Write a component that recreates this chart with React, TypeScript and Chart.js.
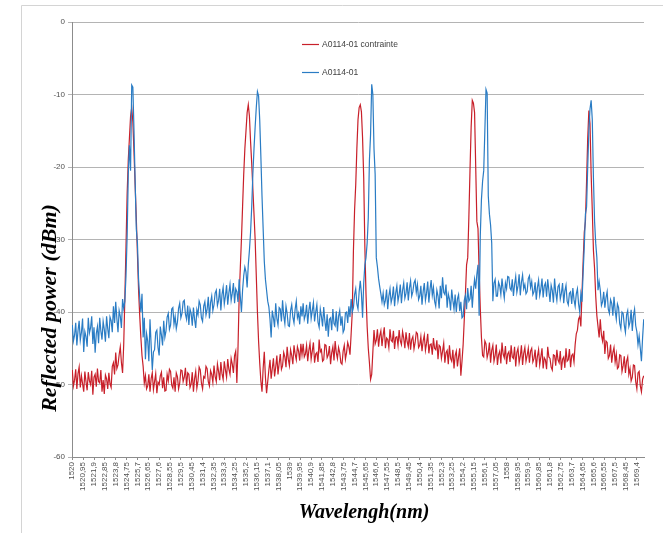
import { useEffect, useRef } from "react";
import { Chart, registerables } from "chart.js";

Chart.register(...registerables);

// Sampling grid of the spectra (nm)
const WL_START = 1520;
const WL_STEP = 0.1;

// Category labels shown on the wavelength axis (Excel style, comma decimals)
const X_TICK_LABELS = [
  "1520", "1520,95", "1521,9", "1522,85", "1523,8", "1524,75", "1525,7", "1526,65",
  "1527,6", "1528,55", "1529,5", "1530,45", "1531,4", "1532,35", "1533,3", "1534,25",
  "1535,2", "1536,15", "1537,1", "1538,05", "1539", "1539,95", "1540,9", "1541,85",
  "1542,8", "1543,75", "1544,7", "1545,65", "1546,6", "1547,55", "1548,5", "1549,45",
  "1550,4", "1551,35", "1552,3", "1553,25", "1554,2", "1555,15", "1556,1", "1557,05",
  "1558", "1558,95", "1559,9", "1560,85", "1561,8", "1562,75", "1563,7", "1564,65",
  "1565,6", "1566,55", "1567,5", "1568,45", "1569,4",
];

const Y_MIN = -60;
const Y_MAX = 0;
const Y_STEP = 10;

const SERIES_NAMES = ["A0114-01 contrainte", "A0114-01"];

// Reflected power (dBm), A0114-01 contrainte (one value every 0.1 nm from 1520 nm)
const RED_VALUES = [
  // 1520.0 - 1524.5
  -48.0, -50.2, -49.4, -47.9, -50.6, -48.5, -47.6, -50.4, -48.8, -49.9,
  -51.0, -48.2, -49.6, -50.8, -48.3, -49.5, -50.0, -48.1, -51.4, -49.0,
  -48.6, -50.3, -47.8, -49.6, -49.8, -48.0, -51.0, -49.4, -51.3, -48.7,
  -49.2, -50.6, -48.4, -49.9, -50.4, -47.5, -47.0, -48.6, -45.6, -47.8,
  -47.3, -45.9, -44.8, -47.0, -48.4, -44.5,
  // peak 1
  -38.0, -31.0, -23.7, -19.0, -16.0, -13.0, -11.8, -13.8, -18.0, -22.5,
  -27.0, -32.0, -37.0, -40.5, -43.5, -46.0, -47.5, -49.8,
  // 1526.4 - 1530.1
  -48.8, -50.6, -50.2, -48.6, -51.0, -49.2, -48.4, -50.7, -49.6, -48.5,
  -51.2, -49.7, -50.0, -48.8, -48.3, -50.5, -49.0, -50.9, -50.8, -48.6,
  -49.5, -47.9, -48.2, -50.1, -50.5, -49.0, -51.0, -48.4, -48.9, -50.6,
  -49.8, -48.0, -48.1, -49.6, -49.0, -47.7, -50.2, -48.4,
  -48.6, -50.4, -49.9, -48.3, -51.0, -49.2, -48.2, -50.5, -49.5, -47.6,
  -48.0, -49.8, -50.6, -48.9, -49.1, -47.5, -47.8, -49.6, -50.2, -48.1,
  -48.6, -49.7, -47.4, -48.9, -49.6, -47.2, -48.2, -49.4, -46.9, -48.5,
  -49.3, -46.8, -48.0, -49.0, -46.5, -47.9, -48.6, -46.4, -47.2, -48.4,
  -46.0, -45.4, -49.8, -45.0,
  // peak 2
  -38.0, -34.0, -30.0, -25.5, -21.0, -17.5, -15.0, -12.5, -11.4, -13.0,
  -16.5, -19.5, -23.0, -26.5, -30.0, -35.0, -40.0, -44.0, -47.0, -49.5,
  // 1536.6 - 1544.5
  -51.0, -47.8, -45.5, -49.0, -51.2, -49.6, -48.0, -46.6, -49.2, -47.8,
  -46.4, -48.9, -47.6, -46.0, -48.6, -47.1, -45.8, -47.9, -47.4, -45.6,
  -46.2, -47.6, -44.8, -46.5, -47.4, -45.2, -46.0, -47.2, -44.6, -45.8,
  -46.6, -44.8, -45.4, -46.7, -44.4, -45.9,
  -44.4, -46.2, -45.8, -44.6, -46.8, -45.3, -44.3, -46.5, -45.4, -44.2,
  -47.0, -45.8, -45.6, -46.9, -43.8, -45.5, -45.2, -46.8, -46.6, -44.5,
  -44.6, -46.3, -45.9, -44.7, -47.2, -45.6, -44.8, -46.7, -44.0, -45.6,
  -46.4, -44.9, -45.6, -47.0, -47.2, -45.4, -44.6, -46.5, -45.6, -44.2,
  -44.8, -45.9, -43.0, -40.0,
  // peak 3
  -31.5, -26.0, -22.5, -17.5, -13.5, -11.8, -11.4, -12.4, -16.0, -21.5,
  -31.0, -37.5, -42.0, -45.0, -47.0, -49.3, -48.6, -45.5,
  // 1546.4 - 1554.3
  -42.5, -44.4, -43.9, -42.4, -44.8, -43.3, -42.6, -44.7, -43.2, -42.1,
  -45.0, -43.6, -43.8, -44.9, -42.4, -43.9, -44.1, -42.6, -45.1, -43.5,
  -43.4, -44.6, -42.5, -44.0, -44.5, -42.7, -43.6, -45.0, -42.8, -44.1,
  -44.8, -42.9, -45.2, -43.8, -43.4, -45.1, -44.2, -42.8,
  -43.0, -44.9, -44.6, -43.4, -45.4, -44.0, -43.2, -45.3, -44.3, -43.0,
  -45.7, -44.5, -44.4, -45.9, -43.6, -45.0, -45.2, -43.9, -46.5, -44.6,
  -44.8, -46.4, -45.4, -44.3, -47.0, -45.6, -45.3, -47.2, -44.6, -46.4,
  -46.8, -45.2, -47.8, -46.0, -45.4, -47.5, -46.2, -45.0, -48.8, -46.8,
  -44.5, -41.0,
  // peak 4
  -37.5, -33.5, -32.5, -27.0, -20.5, -14.5, -10.8, -11.2, -12.5, -20.0,
  -27.5, -28.5, -34.5, -39.5, -43.5, -46.0,
  // 1556.0 - 1564.7
  -46.2, -44.0, -44.4, -46.3, -45.6, -44.2, -47.0, -45.3, -44.6, -46.8,
  -46.0, -44.5, -47.3, -45.9, -45.4, -47.1, -44.2, -45.8, -46.3, -44.7,
  -47.2, -45.8, -45.5, -46.9, -44.6, -46.2, -46.4, -44.8, -47.5, -45.6,
  -45.0, -47.0, -46.1, -44.6, -47.3, -45.7, -44.9, -46.8, -46.0, -45.0,
  -47.0, -45.4,
  -45.0, -46.9, -46.4, -45.2, -47.6, -46.1, -45.2, -47.3, -46.2, -45.0,
  -47.8, -46.3, -46.6, -47.9, -44.8, -46.2, -46.4, -47.6, -48.0, -45.9,
  -46.0, -47.4, -45.2, -46.6, -47.0, -45.4, -48.0, -46.5, -46.2, -47.7,
  -45.0, -46.8, -46.6, -45.1, -47.6, -46.0, -45.8, -46.9, -44.5, -43.0,
  -42.5, -41.0, -40.6, -42.0, -37.4, -33.0,
  // peak 5
  -29.0, -27.5, -22.0, -16.0, -12.2, -14.0, -21.0, -26.0, -31.5, -34.0,
  -37.8, -40.5, -42.0, -43.5,
  // 1566.2 - 1570.0
  -41.0, -43.2, -44.0, -42.6, -45.8, -44.0, -44.2, -46.4, -46.0, -44.5,
  -47.0, -45.6, -44.9, -46.9, -45.8, -47.8, -47.6, -45.9, -46.0, -48.2,
  -47.4, -46.1, -48.4, -46.8, -46.2, -48.6, -47.8, -49.5, -49.0, -47.3,
  -47.4, -49.6, -50.6, -48.4, -48.2, -50.2, -51.0, -49.3, -48.8,
];

// Reflected power (dBm), A0114-01 (one value every 0.1 nm from 1520 nm)
const BLUE_VALUES = [
  // 1520.0 - 1524.5
  -41.8, -44.0, -43.2, -41.5, -44.6, -42.6, -41.2, -43.9, -42.8, -40.9,
  -45.5, -42.7, -43.4, -44.8, -40.8, -42.9, -42.2, -40.6, -44.4, -42.1,
  -45.6, -43.0, -42.0, -44.3, -40.8, -42.6, -43.8, -41.3, -42.4, -44.1,
  -40.6, -42.3, -43.6, -40.7, -41.2, -42.8, -39.2, -41.5, -38.6, -40.9,
  -42.8, -39.8, -40.6, -42.2, -38.2, -39.5,
  // peak 1
  -38.5, -35.0, -29.5, -21.0, -17.0, -20.5, -8.7, -9.0, -15.0, -22.0,
  -28.5, -30.5, -35.5, -38.0, -40.0, -37.5, -43.5, -40.8,
  // 1526.4 - 1530.1
  -46.5, -43.0, -44.0, -46.8, -41.0, -44.6, -48.0, -45.5, -45.2, -42.8,
  -42.5, -44.9, -46.0, -42.0, -43.2, -44.6, -41.2, -43.5, -42.6, -40.7,
  -40.2, -42.4, -41.8, -39.6, -39.4, -41.7, -40.6, -42.3, -41.4, -39.5,
  -38.8, -40.8, -40.2, -38.6, -38.4, -40.3, -41.0, -39.1,
  -41.8, -39.6, -40.2, -41.9, -39.4, -41.0, -42.2, -39.7, -40.4, -38.5,
  -39.0, -40.8, -41.3, -39.2, -38.6, -40.4, -39.6, -37.9, -40.9, -38.7,
  -37.8, -39.8, -39.0, -37.4, -37.0, -39.1, -38.4, -36.8, -39.8, -37.6,
  -36.6, -38.9, -37.8, -36.3, -39.0, -37.4, -36.2, -38.4, -37.4, -36.0,
  -38.8, -36.8, -37.2, -38.6,
  // peak 2
  -35.5, -37.8, -40.0, -37.0, -35.0, -33.8, -34.5, -36.6, -33.5, -31.5,
  -29.0, -25.5, -21.0, -17.5, -14.5, -11.8, -9.6, -10.2, -13.5, -18.5,
  -24.0, -28.5, -33.0, -35.5, -37.0, -38.5, -39.3, -41.0,
  // 1537.4 - 1545.5
  -43.5, -39.8, -40.8, -42.1, -38.8, -40.9, -41.8, -39.4, -39.6, -41.3,
  -38.4, -40.5, -41.6, -39.2, -40.2, -41.9, -42.0, -39.8, -39.0, -40.7,
  -41.5, -39.6, -38.5, -40.8, -40.2, -41.7, -39.2, -40.6,
  -38.8, -41.0, -40.4, -39.0, -41.6, -39.8, -38.6, -40.9, -39.8, -38.7,
  -41.3, -40.0, -39.0, -41.4, -42.1, -39.6, -40.6, -42.0, -39.3, -41.2,
  -42.6, -40.3, -43.4, -41.0, -40.8, -42.5, -39.6, -41.6, -41.9, -39.9,
  -42.7, -40.6, -39.8, -41.9, -40.6, -42.8, -42.4, -40.1, -40.0, -41.5,
  -39.2, -40.7, -38.2, -40.0, -39.4, -37.6, -36.8, -38.9, -39.6, -37.2,
  -35.7, -37.5, -40.8, -36.0,
  // peak 3
  -33.5, -32.5, -30.5, -27.0, -19.0, -15.5, -8.6, -10.0, -17.5, -21.0,
  -32.5, -33.8, -35.4, -36.5, -37.5, -38.6,
  // 1547.2 - 1555.1
  -37.4, -39.0, -38.4, -36.9, -39.6, -37.8, -36.8, -38.7, -38.0, -36.5,
  -39.2, -37.4, -36.4, -38.5, -37.6, -36.2, -38.8, -37.0, -36.0, -38.1,
  -37.4, -35.9, -38.4, -36.7, -35.7, -37.8, -37.2, -36.0, -35.6, -37.3,
  -36.2, -38.3, -37.8, -36.4, -39.0, -37.2, -36.0, -38.4, -37.4, -35.8,
  -38.7, -36.9, -35.6, -37.7, -36.6, -38.5, -39.2, -37.0, -37.8, -39.5,
  -36.4, -38.1, -35.2, -37.3, -37.6, -36.2, -39.4, -37.5, -38.2, -39.8,
  -36.9, -38.4, -39.6, -37.6, -40.0, -38.2, -37.6, -39.9, -38.6, -40.8,
  -40.6, -38.4, -37.7, -39.6, -36.7, -38.5, -38.2, -36.4, -39.4, -37.0,
  // peak 4
  -35.5, -36.8, -34.8, -33.5, -40.5, -29.5, -24.5, -22.0, -20.5, -15.0,
  -9.3, -9.8, -24.0, -26.5, -28.0, -30.5, -38.5, -36.0, -35.5, -37.8,
  // 1557.2 - 1564.3
  -37.8, -35.9, -36.4, -37.6, -35.4, -36.9, -38.1, -36.0, -36.8, -35.1,
  -35.2, -36.7, -37.0, -35.5, -37.8, -36.2, -35.1, -37.3, -36.4, -34.8,
  -37.7, -35.9, -34.9, -36.8, -36.2, -37.5, -37.2, -35.4, -35.0, -36.6,
  -35.8, -37.6, -37.2, -35.9, -38.3, -36.6, -35.6, -37.7, -36.8, -35.4,
  -38.0, -36.4, -36.0, -37.9, -35.5, -37.0, -38.6, -36.3, -37.0, -38.7,
  -35.4, -37.3, -38.4, -36.5, -36.2, -38.2, -37.4, -36.0, -38.8, -37.1,
  -36.3, -38.5, -39.0, -37.4, -37.2, -38.9, -36.7, -38.3, -39.2, -37.5,
  -36.8, -38.9,
  // peak 5
  -40.0, -37.5, -38.6, -34.5, -31.0, -26.5, -25.5, -20.0, -15.0, -12.0,
  -10.8, -13.5, -21.5, -27.5, -30.5, -32.5, -37.0, -35.8,
  // 1566.2 - 1570.0
  -37.0, -39.1, -38.6, -37.2, -39.4, -38.0, -37.2, -39.6, -40.2, -38.3,
  -38.8, -40.5, -37.9, -39.8, -41.0, -38.9, -39.4, -41.6, -42.3, -40.0,
  -40.2, -41.8, -42.8, -40.4, -39.8, -42.0, -41.4, -39.7, -42.6, -40.5,
  -39.6, -41.9, -42.7, -44.5, -43.3, -45.0, -46.8, -43.6, -41.0,
];

const RED = "#c8202a";
const BLUE = "#2a7cc4";

const toPoints = (vals: number[]) =>
  vals.map((y, i) => ({ x: Math.round((WL_START + i * WL_STEP) * 100) / 100, y }));

const tickValue = (label: string) => parseFloat(label.replace(",", "."));

const decorPlugin = {
  id: "decor",
  beforeDraw(chart: any) {
    const { ctx, width, height } = chart;
    ctx.save();
    ctx.fillStyle = "#ffffff";
    ctx.fillRect(0, 0, width, height);
    ctx.strokeStyle = "#d4d4d4";
    ctx.lineWidth = 1;
    ctx.beginPath();
    ctx.moveTo(21.5, height);
    ctx.lineTo(21.5, 5.5);
    ctx.lineTo(width, 5.5);
    ctx.stroke();
    ctx.restore();
  },
  afterDraw(chart: any) {
    const { ctx } = chart;
    ctx.save();
    // axis titles
    ctx.fillStyle = "#000000";
    ctx.font = 'italic bold 22px "Liberation Serif", "DejaVu Serif", serif';
    ctx.textAlign = "center";
    ctx.textBaseline = "alphabetic";
    ctx.save();
    ctx.translate(56, 308);
    ctx.rotate(-Math.PI / 2);
    ctx.fillText("Reflected power (dBm)", 0, 0);
    ctx.restore();
    ctx.font = 'italic bold 20px "Liberation Serif", "DejaVu Serif", serif';
    ctx.fillText("Wavelengh(nm)", 364, 518);

    // legend
    const ds = chart.data.datasets;
    const rows = [
      { label: ds[0].label, color: ds[0].borderColor, y: 44.5 },
      { label: ds[1].label, color: ds[1].borderColor, y: 72.5 },
    ];
    ctx.font = '8.5px "Liberation Sans", Arial, sans-serif';
    ctx.textAlign = "left";
    ctx.textBaseline = "middle";
    rows.forEach((r) => {
      ctx.strokeStyle = r.color;
      ctx.lineWidth = 1.2;
      ctx.beginPath();
      ctx.moveTo(302, r.y);
      ctx.lineTo(319, r.y);
      ctx.stroke();
      ctx.fillStyle = "#404040";
      ctx.fillText(r.label, 322, r.y + 0.5);
    });
    ctx.restore();
  },
};

export default function App() {
  const canvasRef = useRef<HTMLCanvasElement | null>(null);

  useEffect(() => {
    if (!canvasRef.current) return;
    const tickFont = { family: '"Liberation Sans", Arial, sans-serif', size: 8 };
    const chart = new Chart(canvasRef.current, {
      type: "line",
      data: {
        datasets: [
          {
            label: SERIES_NAMES[0],
            data: toPoints(RED_VALUES),
            borderColor: RED,
            backgroundColor: RED,
            borderWidth: 1.2,
            pointRadius: 0,
            tension: 0,
            order: 2,
          },
          {
            label: SERIES_NAMES[1],
            data: toPoints(BLUE_VALUES),
            borderColor: BLUE,
            backgroundColor: BLUE,
            borderWidth: 1.2,
            pointRadius: 0,
            tension: 0,
            order: 1,
          },
        ],
      },
      options: {
        animation: false,
        responsive: false,
        devicePixelRatio: 1,
        layout: { padding: { left: 0, top: 22, right: 19, bottom: 0 } },
        plugins: {
          legend: { display: false },
          tooltip: { enabled: false },
          title: { display: false },
        },
        scales: {
          x: {
            type: "linear",
            min: 1519.975,
            max: 1570.025,
            afterBuildTicks: (scale: any) => {
              scale.ticks = X_TICK_LABELS.map((l) => ({ value: tickValue(l) }));
            },
            afterFit: (scale: any) => {
              scale.height = 76;
            },
            ticks: {
              autoSkip: false,
              minRotation: 90,
              maxRotation: 90,
              padding: 2,
              font: tickFont,
              color: "#505050",
              callback: (_v: any, i: number) => X_TICK_LABELS[i],
            },
            grid: {
              display: true,
              drawOnChartArea: false,
              drawTicks: true,
              tickLength: 3,
              color: "#8c8c8c",
            },
            border: { display: true, color: "#8c8c8c" },
          },
          y: {
            min: Y_MIN,
            max: Y_MAX,
            afterFit: (scale: any) => {
              scale.width = 72;
            },
            ticks: {
              stepSize: Y_STEP,
              padding: 3,
              font: tickFont,
              color: "#505050",
            },
            grid: {
              color: "#b4b4b4",
              tickLength: 4,
            },
            border: { display: true, color: "#8c8c8c" },
          },
        },
      },
      plugins: [decorPlugin],
    });
    return () => chart.destroy();
  }, []);

  return (
    <div style={{ position: "fixed", left: 0, top: 0, width: 663, height: 533, background: "#fff" }}>
      <canvas ref={canvasRef} width={663} height={533} style={{ display: "block" }} />
    </div>
  );
}
